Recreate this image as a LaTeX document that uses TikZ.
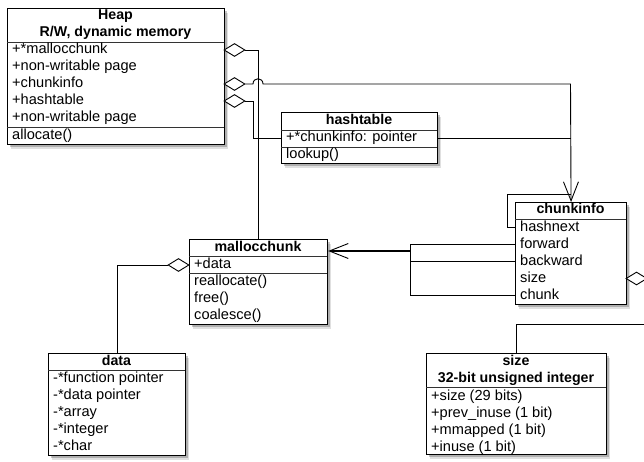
\documentclass[tikz,border=0pt]{standalone}
\usepackage{fontspec}
\setmainfont{Liberation Sans}
\usetikzlibrary{shapes.geometric,arrows.meta,shadows}
\newcommand\fsz{\fontsize{14.6}{16}\selectfont}
\newcommand\fszb{\fontsize{14.2}{16}\selectfont\bfseries}
\tikzset{
  cls/.style={draw, line width=1.1pt, fill=white, anchor=north west, inner sep=0pt,
    drop shadow={shadow xshift=3.5pt, shadow yshift=-4.5pt, fill=black, opacity=0.12},
    drop shadow={shadow xshift=2pt, shadow yshift=-2.5pt, fill=black, opacity=0.22}},
  sepline/.style={line width=0.8pt, draw=black!80},
  txt/.style={anchor=west, inner sep=0pt, text height=10pt, text depth=3pt, font=\fsz},
  ttl/.style={anchor=center, inner sep=0pt, text height=10pt, text depth=3pt, font=\fszb},
  agg/.style={draw, diamond, fill=white, minimum width=21pt, minimum height=13pt, inner sep=0pt, line width=0.9pt},
  conn/.style={line width=0.9pt},
  nav/.style={conn, -{Straight Barb[length=19pt,width=15pt,line width=0.9pt]}}
}
\begin{document}
\begin{tikzpicture}[x=1pt,y=-1pt]
\useasboundingbox (0,0) rectangle (644,462);
% ---------- Heap ----------
\node[cls, minimum width=217pt, minimum height=136pt] (heap) at (7,8) {};
\draw[sepline] (7,42) -- (224,42);
\draw[sepline] (7,127) -- (224,127);
\node[ttl] (heapt1) at (115.5,16) {Heap};
\node[ttl] (heapt2) at (115.5,33) {R/W, dynamic memory};
\node[txt] (heapa1) at (12,50) {+*mallocchunk};
\node[txt] (heapa2) at (12,67) {+non-writable page};
\node[txt] (heapa3) at (12,84) {+chunkinfo};
\node[txt] (heapa4) at (12,101) {+hashtable};
\node[txt] (heapa5) at (12,118) {+non-writable page};
\node[txt] (heapm1) at (12,136) {allocate()};
% ---------- hashtable ----------
\node[cls, minimum width=156pt, minimum height=51pt] (ht) at (281,112) {};
\draw[sepline] (281,130) -- (437,130);
\draw[sepline] (281,147) -- (437,147);
\node[ttl] (htt) at (359,121) {hashtable};
\node[txt] (hta1) at (286,138.5) {+*chunkinfo: pointer};
\node[txt] (htm1) at (286,155) {lookup()};
% ---------- chunkinfo ----------
\node[cls, minimum width=111pt, minimum height=102pt] (ci) at (515,202) {};
\draw[sepline] (515,219) -- (626,219);
\node[ttl] (cit) at (570.5,210.5) {chunkinfo};
\node[txt] (cia1) at (520,227.5) {hashnext};
\node[txt] (cia2) at (520,244.5) {forward};
\node[txt] (cia3) at (520,261.5) {backward};
\node[txt] (cia4) at (520,278.5) {size};
\node[txt] (cia5) at (520,295.5) {chunk};
% ---------- mallocchunk ----------
\node[cls, minimum width=138pt, minimum height=85pt] (mc) at (189,239) {};
\draw[sepline] (189,256) -- (327,256);
\draw[sepline] (189,273) -- (327,273);
\node[ttl] (mct) at (258,247.5) {mallocchunk};
\node[txt] (mca1) at (194,265) {+data};
\node[txt] (mcm1) at (194,282) {reallocate()};
\node[txt] (mcm2) at (194,299) {free()};
\node[txt] (mcm3) at (194,316) {coalesce()};
% ---------- data ----------
\node[cls, minimum width=137pt, minimum height=102pt] (dt) at (48,353) {};
\draw[sepline] (48,370) -- (185,370);
\node[ttl] (dtt) at (116.5,361.5) {data};
\node[txt] (dta1) at (53,378.5) {-*function pointer};
\node[txt] (dta2) at (53,395.5) {-*data pointer};
\node[txt] (dta3) at (53,412.5) {-*array};
\node[txt] (dta4) at (53,429.5) {-*integer};
\node[txt] (dta5) at (53,446.5) {-*char};
% ---------- size ----------
\node[cls, minimum width=180pt, minimum height=101pt] (sz) at (426,353) {};
\draw[sepline] (426,387) -- (606,387);
\node[ttl] (szt1) at (516,361.5) {size};
\node[ttl] (szt2) at (516,378.5) {32-bit unsigned integer};
\node[txt] (sza1) at (431,396.5) {+size (29 bits)};
\node[txt] (sza2) at (431,413.5) {+prev\_inuse (1 bit)};
\node[txt] (sza3) at (431,430.5) {+mmapped (1 bit)};
\node[txt] (sza4) at (431,447.5) {+inuse (1 bit)};
% ---------- connectors ----------
\coordinate (hopa) at (253,84);
\coordinate (hopb) at (263,84);
\coordinate (jtop) at (570.5,84);
\coordinate (jht) at (253,101);
\coordinate (lpa) at (507,227.5);
\coordinate (lpb) at (507,194);
\coordinate (jn) at (410,251);
\coordinate (vtop) at (410,244.5);
\coordinate (vbot) at (410,295.5);
\coordinate (rga) at (660,278.5);
\coordinate (rgb) at (660,324);
% Heap -> mallocchunk
\node[agg] (dm) at (234.5,50) {};
\draw[conn] (dm.east) -| (mc.north);
% Heap -> chunkinfo
\node[agg] (dc) at (234.5,84) {};
\draw[nav] (dc.east) -- (hopa) .. controls (253,77) and (263,77) .. (hopb) -- (jtop) -- (ci.north);
% Heap -> hashtable
\node[agg] (dh) at (234.5,101) {};
\draw[conn] (dh.east) -- (jht) |- (ht.west);
% hashtable -> chunkinfo line
\draw[conn] (ht.east) -- (ht.east -| ci.north);
% chunkinfo self loop
\draw[conn] (ci.west |- cia1) -- (lpa) -- (lpb) -- (lpb -| ci.north);
% chunkinfo -> mallocchunk
\draw[conn] (ci.west |- cia2) -- (vtop) -- (vbot) -- (ci.west |- cia5);
\draw[conn] (ci.west |- cia3) -- (vtop |- cia3);
\draw[nav, line width=1.5pt] (jn) -- (mc.east |- jn);
% mallocchunk -> data
\node[agg] (dd) at (178.5,265) {};
\draw[conn] (dd.west) -| (dt.north);
% chunkinfo -> size
\node[agg] (ds) at (636.5,278.5) {};
\draw[conn] (ds.east) -- (rga) -- (rgb) -| (sz.north);
\end{tikzpicture}
\end{document}
